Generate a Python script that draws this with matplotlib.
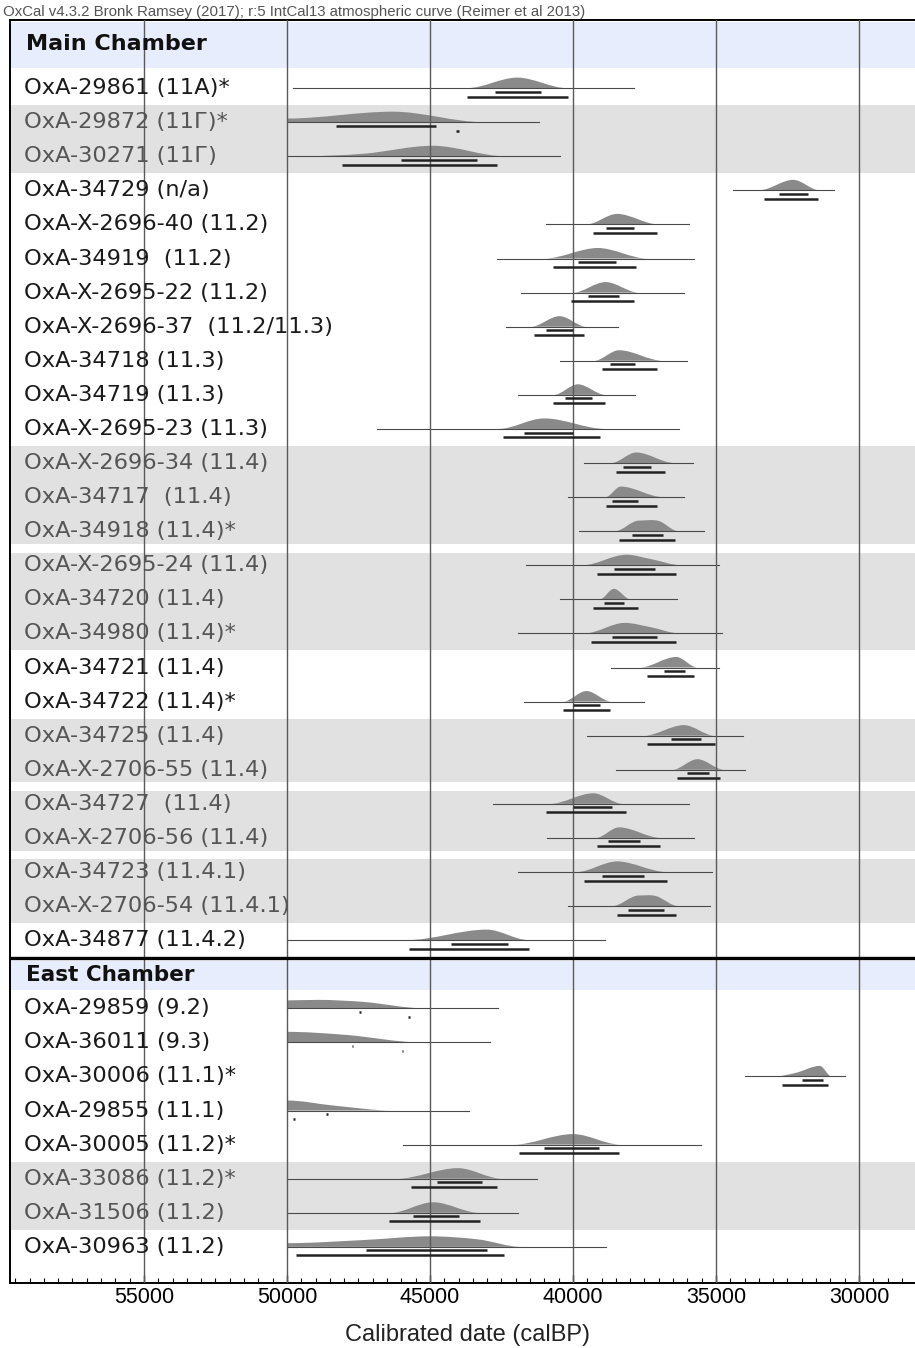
import matplotlib
matplotlib.use('Agg')
import matplotlib.pyplot as plt
import matplotlib.transforms as mtransforms
from matplotlib.path import Path
from matplotlib.patches import PathPatch
from matplotlib.ticker import MultipleLocator

# ---- data (dates in calBP) ----
main_labels = ['OxA-29861 (11А)*', 'OxA-29872 (11Г)*', 'OxA-30271 (11Г)', 'OxA-34729 (n/a)',
               'OxA-X-2696-40 (11.2)', 'OxA-34919  (11.2)', 'OxA-X-2695-22 (11.2)',
               'OxA-X-2696-37  (11.2/11.3)', 'OxA-34718 (11.3)', 'OxA-34719 (11.3)',
               'OxA-X-2695-23 (11.3)', 'OxA-X-2696-34 (11.4)', 'OxA-34717  (11.4)',
               'OxA-34918 (11.4)*', 'OxA-X-2695-24 (11.4)', 'OxA-34720 (11.4)', 'OxA-34980 (11.4)*',
               'OxA-34721 (11.4)', 'OxA-34722 (11.4)*', 'OxA-34725 (11.4)', 'OxA-X-2706-55 (11.4)',
               'OxA-34727  (11.4)', 'OxA-X-2706-56 (11.4)', 'OxA-34723 (11.4.1)',
               'OxA-X-2706-54 (11.4.1)', 'OxA-34877 (11.4.2)']
main_bands = [0, 1, 1, 0, 0, 0, 0, 0, 0, 0, 0, 2, 2, 2, 3, 3, 3, 0, 0, 4, 4, 5, 5, 6, 6, 0]
main_lines = [(49800, 37860), (50000, 41200), (50000, 40470), (34420, 30860), (40960, 35940),
              (42650, 35760), (41810, 36120), (42340, 38430), (40470, 36010), (41910, 37820),
              (46870, 36290), (39620, 35820), (40170, 36120), (39800, 35410), (41630, 34890),
              (40470, 36360), (41910, 34780), (38660, 34910), (41700, 37520), (39500, 34040),
              (38490, 34000), (42780, 35940), (40910, 35760), (41940, 35150), (40170, 35220),
              (50000, 38890)]
main_dens = [[(43700, 0), (41950, 1), (40200, 0)],
             [(50000, 0.35), (46300, 1), (43100, 0)],
             [(49600, 0), (47300, 0.25), (44900, 1), (42350, 0)],
             [(33500, 0), (32300, 1), (31370, 0)],
             [(39530, 0), (38460, 1), (37000, 0)],
             [(41000, 0), (39130, 1), (37390, 0)],
             [(40000, 0), (38860, 1), (37700, 0)],
             [(41470, 0), (40470, 1), (39530, 0)],
             [(39260, 0), (38390, 1), (36850, 0)],
             [(40670, 0), (39830, 1), (38860, 0)],
             [(42610, 0), (41000, 1), (38860, 0)],
             [(38660, 0), (37790, 1), (36450, 0)],
             [(38860, 0), (38330, 1), (36850, 0)],
             [(38530, 0), (37700, 1), (37000, 0.97), (36320, 0)],
             [(39670, 0), (38130, 1), (37300, 0.6), (36190, 0)],
             [(39060, 0), (38570, 1), (37990, 0)],
             [(39600, 0), (38190, 1), (37300, 0.6), (36250, 0)],
             [(37660, 0), (36390, 1), (35650, 0)],
             [(40340, 0), (39530, 1), (38660, 0)],
             [(37520, 0), (36120, 1), (35050, 0)],
             [(36520, 0), (35650, 1), (34710, 0)],
             [(40800, 0), (39290, 1), (38260, 0)],
             [(39200, 0), (38390, 1), (36920, 0)],
             [(39870, 0), (38460, 1), (36720, 0)],
             [(38620, 0), (37700, 1), (37100, 0.95), (36320, 0)],
             [(45820, 0), (43010, 1), (41540, 0)]]
main_r68 = [[(42740, 41110)], [(48300, 44780)], [(46010, 43350)], [(32810, 31790)], [(38860, 37860)],
            [(39830, 38510)], [(39460, 38390)], [(40940, 40000)], [(38700, 37820)], [(40270, 39330)],
            [(41710, 40000)], [(38260, 37280)], [(38620, 37720)], [(37950, 36850)], [(38570, 37120)],
            [(38930, 38220)], [(38620, 37050)], [(36810, 36090)], [(40000, 39060)], [(36590, 35540)],
            [(36020, 35250)], [(40000, 38620)], [(38760, 37660)], [(39000, 37500)], [(38090, 36810)],
            [(44280, 42280)]]
main_r95 = [[(43720, 40160)], [(44080, 44000)], [(48070, 42640)], [(33310, 31430)], [(39290, 37050)],
            [(40700, 37790)], [(40070, 37860)], [(41370, 39600)], [(39000, 37050)], [(40700, 38890)],
            [(42450, 39060)], [(38500, 36790)], [(38860, 37050)], [(38390, 36450)], [(39170, 36390)],
            [(39290, 37720)], [(39370, 36390)], [(37430, 35780)], [(40340, 38700)], [(37430, 35050)],
            [(36350, 34870)], [(40940, 38150)], [(39170, 36950)], [(39600, 36720)], [(38460, 36390)],
            [(45720, 41540)]]

east_labels = ['OxA-29859 (9.2)', 'OxA-36011 (9.3)', 'OxA-30006 (11.1)*', 'OxA-29855 (11.1)',
               'OxA-30005 (11.2)*', 'OxA-33086 (11.2)*', 'OxA-31506 (11.2)', 'OxA-30963 (11.2)']
east_bands = [0, 0, 0, 0, 0, 7, 7, 0]
east_lines = [(50000, 42610), (50000, 42900), (34000, 30500), (50000, 43640), (45930, 35520),
              (50000, 41270), (50000, 41940), (50000, 38840)]
east_dens = [[(50000, 0.75), (48950, 0.8), (47300, 0.6), (45200, 0)],
             [(50000, 1.0), (47900, 0.7), (45300, 0)],
             [(32970, 0), (32200, 0.35), (31370, 1), (30960, 0)],
             [(50000, 0.95), (48300, 0.45), (46300, 0)],
             [(42080, 0), (40000, 1), (38330, 0)],
             [(46160, 0), (44020, 1), (42480, 0)],
             [(46360, 0), (44890, 1), (43280, 0)],
             [(50000, 0.35), (47300, 0.65), (45000, 1), (43300, 0.7), (41800, 0)]]
east_r68 = [[(47470, 47400)], [(47730, 47680)], [(32010, 31260)], [(48640, 48580)],
            [(41030, 39090)], [(44750, 43190)], [(45600, 43990)], [(47230, 43010)]]
east_r95 = [[(45760, 45690)], [(45990, 45930)], [(32680, 31070)], [(49790, 49730)],
            [(41900, 38390)], [(45660, 42640)], [(46430, 43250)], [(49700, 42410)]]

x_ticks = [55000, 50000, 45000, 40000, 35000, 30000]

# ---- figure ----
fig = plt.figure(figsize=(9.15, 13.48), dpi=100)
ax = fig.add_axes([10 / 915, 1 - 1283 / 1348, 905 / 915, 1263 / 1348])
ax.set_xlim(59685, 28042)
ax.set_ylim(35.06, -2.0)

H = 0.31        # peak height in row units
OFF68, OFF95 = 0.105, 0.25
EAST0 = 27


def density_patch(knots, y0):
    xs = [k[0] for k in knots]
    ys = [k[1] for k in knots]
    n = len(knots)
    slopes = []
    for i in range(n):
        if i == 0 or i == n - 1 or (ys[i] - ys[i - 1]) * (ys[i + 1] - ys[i]) <= 0:
            slopes.append(0.0)
        else:
            slopes.append((ys[i + 1] - ys[i - 1]) / (xs[i + 1] - xs[i - 1]))
    verts = [(xs[0], y0), (xs[0], y0 - ys[0] * H)]
    codes = [Path.MOVETO, Path.LINETO]
    for i in range(n - 1):
        dx = xs[i + 1] - xs[i]
        verts += [(xs[i] + dx / 3, y0 - (ys[i] + slopes[i] * dx / 3) * H),
                  (xs[i + 1] - dx / 3, y0 - (ys[i + 1] - slopes[i + 1] * dx / 3) * H),
                  (xs[i + 1], y0 - ys[i + 1] * H)]
        codes += [Path.CURVE4] * 3
    verts += [(xs[-1], y0), (xs[0], y0)]
    codes += [Path.LINETO, Path.CLOSEPOLY]
    return PathPatch(Path(verts, codes), facecolor='#8a8a8a', edgecolor='none', zorder=2)


def draw_bands(bands, first):
    i = 0
    while i < len(bands):
        if bands[i] == 0:
            i += 1
            continue
        j = i
        while j + 1 < len(bands) and bands[j + 1] == bands[i]:
            j += 1
        top = first + i - (0.37 if i > 0 and bands[i - 1] != 0 else 0.5)
        bot = first + j + (0.37 if j + 1 < len(bands) and bands[j + 1] != 0 else 0.5)
        ax.axhspan(top, bot, color='#e1e1e1', lw=0, zorder=0)
        i = j + 1


def draw_rows(labels, bands, lines, dens, r68, r95, first):
    lab_tr = mtransforms.blended_transform_factory(ax.transAxes, ax.transData)
    for k in range(len(labels)):
        y = first + k
        ax.plot(lines[k], [y, y], color='#4a4a4a', lw=0.8, zorder=2.5)
        ax.add_patch(density_patch(dens[k], y))
        for a, b in r68[k]:
            ax.plot([a, b], [y + OFF68] * 2, color='#222222', lw=1.8, solid_capstyle='butt', zorder=4)
        for a, b in r95[k]:
            ax.plot([a, b], [y + OFF95] * 2, color='#222222', lw=1.8, solid_capstyle='butt', zorder=4)
        ax.text(0.0155, y, labels[k], transform=lab_tr, va='center', ha='left',
                fontsize=16.2, family=['DejaVu Sans'],
                color='#555555' if bands[k] else '#1a1a1a', zorder=5)


# header bands
ax.axhspan(-1.94, -0.59, color='#e7edfc', lw=0, zorder=0)
ax.axhspan(25.6, 26.45, color='#e7edfc', lw=0, zorder=0)
draw_bands(main_bands, 0)
draw_bands(east_bands, EAST0)

for t in x_ticks:
    ax.axvline(t, color='#5a5a5a', lw=1.0, zorder=3)

draw_rows(main_labels, main_bands, main_lines, main_dens, main_r68, main_r95, 0)
draw_rows(east_labels, east_bands, east_lines, east_dens, east_r68, east_r95, EAST0)

hdr_tr = mtransforms.blended_transform_factory(ax.transAxes, ax.transData)
ax.text(0.0177, -1.3, 'Main Chamber', transform=hdr_tr, va='center', ha='left',
        fontsize=16, fontweight='bold', family=['DejaVu Sans'], color='#111111', zorder=5)
ax.text(0.0177, 26.02, 'East Chamber', transform=hdr_tr, va='center', ha='left',
        fontsize=15.5, fontweight='bold', family=['DejaVu Sans'], color='#111111', zorder=5)
ax.axhline(25.53, color='black', lw=2.4, zorder=6)

# axes frame and ticks
ax.spines['right'].set_visible(False)
for s in ['top', 'bottom', 'left']:
    ax.spines[s].set_linewidth(1.4)
ax.set_yticks([])
ax.xaxis.set_major_locator(MultipleLocator(5000))
ax.xaxis.set_minor_locator(MultipleLocator(500))
ax.tick_params(axis='x', which='major', direction='in', length=6, width=1, pad=3, labelsize=15.5)
ax.tick_params(axis='x', which='minor', direction='in', length=3.5, width=0.8)
for lab in ax.get_xticklabels():
    lab.set_family(['Liberation Sans'])
ax.xaxis.set_major_formatter(matplotlib.ticker.FuncFormatter(lambda v, p: '%d' % v))

fig.text(468 / 915, 1 - 1335 / 1348, 'Calibrated date (calBP)', ha='center', va='center',
         fontsize=17, family=['Liberation Sans'], color='#222222')
fig.text(3 / 915, 1 - 12 / 1348,
         'OxCal v4.3.2 Bronk Ramsey (2017); r:5 IntCal13 atmospheric curve (Reimer et al 2013)',
         ha='left', va='center', fontsize=10.8, family=['Liberation Sans'], color='#555555')

plt.savefig('out.png', dpi=100)
